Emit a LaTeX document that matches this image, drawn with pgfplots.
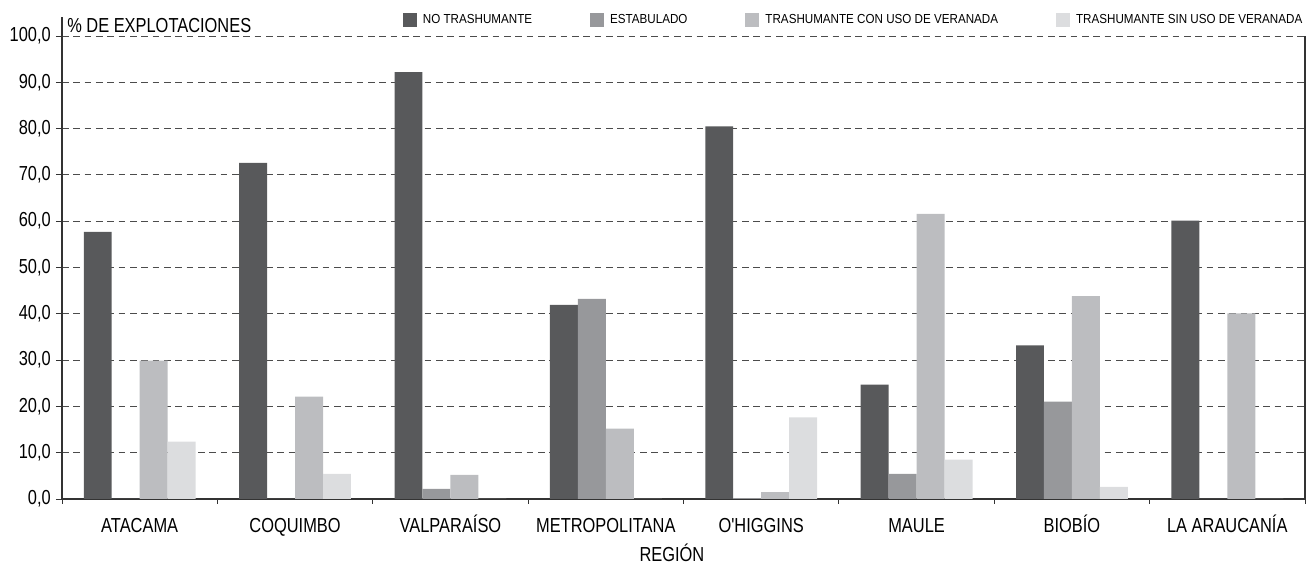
\documentclass[border=0pt]{standalone}
\usepackage{fontspec}
\setmainfont{Liberation Sans}[FakeStretch=0.81, Ligatures=TeXOff]
\newfontfamily\legfont{Liberation Sans}[FakeStretch=0.89]
\usepackage{pgfplots}
\pgfplotsset{compat=1.18}
\definecolor{cNT}{HTML}{58595B}
\definecolor{cES}{HTML}{97989B}
\definecolor{cCV}{HTML}{BCBDC0}
\definecolor{cSV}{HTML}{DCDDDF}
\definecolor{axcol}{HTML}{333333}
\newcommand{\mf}{\fontsize{15.2}{18}\selectfont}
\begin{document}
\begin{tikzpicture}
\begin{axis}[
  name=ax,
  scale only axis, width=932.25pt, height=361.1pt,
  ybar=0pt, bar width=0.18,
  xmin=-0.5, xmax=7.5, ymin=0, ymax=104,
  axis lines*=left,
  axis line style={line width=0.9pt, color=axcol},
  clip=false,
  xtick={0,...,7},
  xticklabels={ATACAMA, COQUIMBO, VALPARAÍSO, METROPOLITANA, O'HIGGINS, MAULE, BIOBÍO, LA ARAUCANÍA},
  major x tick style={draw=none},
  minor xtick={-0.5,0.5,...,7.5},
  minor x tick style={line width=0.7pt, color=axcol},
  minor tick length=3.75pt,
  tick align=outside,
  ytick={0,10,...,100},
  major tick length=4.5pt,
  y tick style={line width=0.7pt, color=axcol},
  ymajorgrids,
  grid style={dashed, dash pattern=on 5pt off 3.5pt, line width=0.7pt, color=black!70},
  /pgf/number format/assume math mode=true,
  yticklabel style={/pgf/number format/fixed, /pgf/number format/fixed zerofill,
    /pgf/number format/precision=1, /pgf/number format/use comma,
    anchor=east, inner sep=0pt, xshift=-3.75pt, font=\mf},
  xticklabel style={anchor=base, inner sep=0pt, font=\mf, yshift=-21pt},
  legend columns=4,
  legend style={draw=none, fill=none, inner sep=0pt, outer sep=0pt,
    at={(axis description cs:0.2743,1)}, anchor=west, yshift=-1.9pt,
    font=\legfont\fontsize{9.8}{11}\selectfont,
    nodes={inner xsep=4.5pt, inner ysep=0pt},
    /tikz/every even column/.append style={column sep=39pt}},
  legend image code/.code={\fill[#1] (0pt,-5.25pt) rectangle (10.5pt,5.25pt);},
]
\addplot[fill=cNT, draw=none] coordinates {(0,57.7) (1,72.6) (2,92.2) (3,41.9) (4,80.5) (5,24.7) (6,33.2) (7,60.1)};
\addplot[fill=cES, draw=none] coordinates {(0,0) (1,0) (2,2.2) (3,43.2) (4,0.2) (5,5.4) (6,21.0) (7,0)};
\addplot[fill=cCV, draw=none] coordinates {(0,29.9) (1,22.1) (2,5.2) (3,15.2) (4,1.5) (5,61.6) (6,43.8) (7,40.1)};
\addplot[fill=cSV, draw=none] coordinates {(0,12.4) (1,5.4) (2,0) (3,0) (4,17.6) (5,8.5) (6,2.6) (7,0)};
\legend{NO TRASHUMANTE, ESTABULADO, TRASHUMANTE CON USO DE VERANADA, TRASHUMANTE SIN USO DE VERANADA}
\draw[line width=0.9pt, color=axcol] (axis cs:7.5,0) -- (axis cs:7.5,100);
\node[anchor=base west, inner sep=0pt, xshift=3.75pt, yshift=-10.9pt, font=\mf] at (rel axis cs:0,1) {\% DE EXPLOTACIONES};
\node[anchor=base, inner sep=0pt, yshift=-47.25pt, font=\mf] at (rel axis cs:0.4907,0) {REGIÓN};
\end{axis}
\pgfresetboundingbox
\path[use as bounding box] ([xshift=-46.5pt,yshift=-48.75pt]ax.south west) rectangle ([xshift=0.75pt,yshift=13.125pt]ax.north east);
\end{tikzpicture}
\end{document}
